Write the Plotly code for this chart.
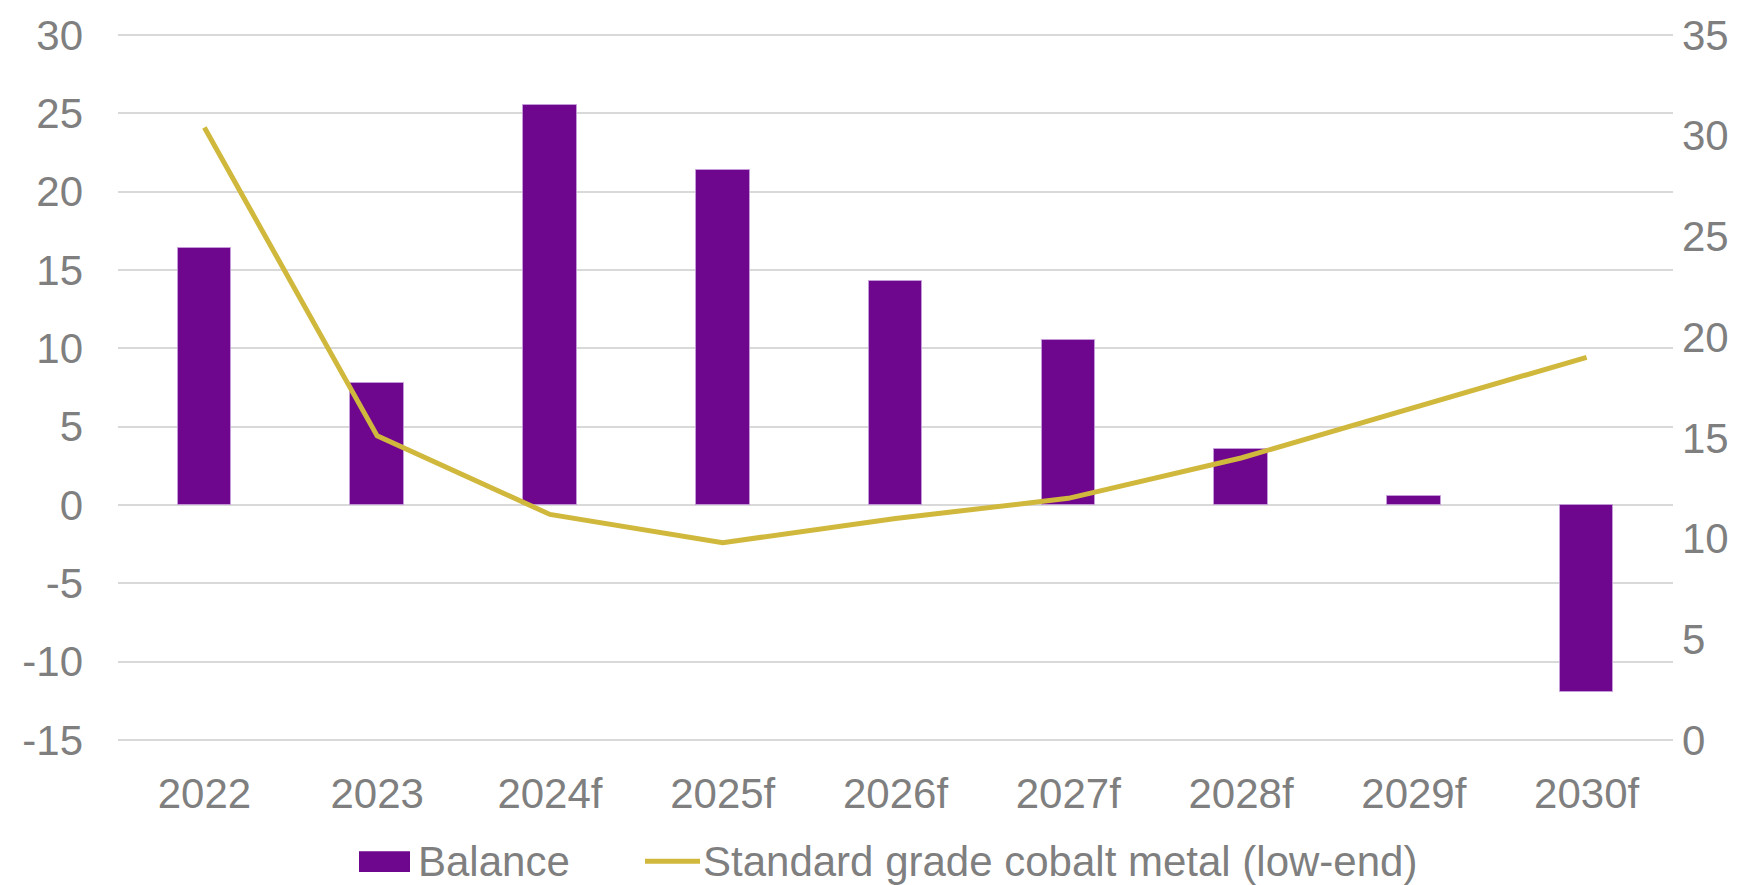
import plotly.graph_objects as go

years = ["2022", "2023", "2024f", "2025f", "2026f", "2027f", "2028f", "2029f", "2030f"]
balance = [16.4, 7.8, 25.5, 21.4, 14.3, 10.5, 3.6, 0.6, -11.9]
cobalt_price = [30.4, 15.1, 11.2, 9.8, 11.0, 12.0, 14.0, 16.5, 19.0]

left_ticks = [-15, -10, -5, 0, 5, 10, 15, 20, 25, 30]
right_ticks = [0, 5, 10, 15, 20, 25, 30, 35]

BAR_COLOR = "#6E078E"
LINE_COLOR = "#D0B83C"
TEXT_COLOR = "#7F7F7F"
GRID_COLOR = "#D9D9D9"
FONT = "Liberation Sans, Arial, sans-serif"
FS = 42

W, H = 1764, 885
ML, MR, MT, MB = 118, 91, 28, 143

# small padding so the outermost gridlines are drawn
PAD = 0.12
left_range = [-15 - PAD, 30 + PAD]
ratio = 35 / 45
right_range = [0 - PAD * ratio, 35 + PAD * ratio]

fig = go.Figure()
fig.add_trace(go.Bar(
    x=years, y=balance, name="Balance",
    marker=dict(color=BAR_COLOR, line=dict(color="rgba(200,160,220,0.8)", width=1)),
    width=0.31, yaxis="y",
))
fig.add_trace(go.Scatter(
    x=years, y=cobalt_price, name="Standard grade cobalt metal (low-end)",
    mode="lines", line=dict(color=LINE_COLOR, width=5), yaxis="y2",
))

fig.update_layout(
    width=W, height=H,
    margin=dict(l=ML, r=MR, t=MT, b=MB),
    paper_bgcolor="white", plot_bgcolor="white",
    showlegend=False,
    font=dict(family=FONT, size=FS, color=TEXT_COLOR),
    bargap=0.0,
    xaxis=dict(
        type="category", showgrid=False, zeroline=False, showline=False,
        ticks="", tickfont=dict(size=FS, color=TEXT_COLOR),
        ticklabelstandoff=23,
    ),
    yaxis=dict(
        range=left_range, tickvals=left_ticks,
        ticktext=[str(v) for v in left_ticks], showgrid=True,
        gridcolor=GRID_COLOR, gridwidth=1.5, zeroline=False, showline=False,
        ticks="", tickfont=dict(size=FS, color=TEXT_COLOR),
        ticklabelstandoff=34,
    ),
    yaxis2=dict(
        range=right_range, tickvals=right_ticks,
        ticktext=[str(v) for v in right_ticks], overlaying="y", side="right",
        showgrid=False, zeroline=False, showline=False, ticks="",
        tickfont=dict(size=FS, color=TEXT_COLOR), ticklabelstandoff=8,
    ),
)

# Legend drawn below the plot area
def px_x(px):
    return (px - ML) / (W - ML - MR)

def px_y(py):
    return (H - MB - py) / (H - MT - MB)

leg_y = px_y(862)
fig.add_shape(type="rect", xref="paper", yref="paper",
              x0=px_x(359), x1=px_x(410), y0=px_y(873), y1=px_y(852),
              fillcolor=BAR_COLOR, line=dict(width=0))
fig.add_annotation(xref="paper", yref="paper", x=px_x(416), y=leg_y,
                   text="Balance", showarrow=False, xanchor="left", yanchor="middle",
                   font=dict(size=FS, color=TEXT_COLOR))
fig.add_shape(type="line", xref="paper", yref="paper",
              x0=px_x(645), x1=px_x(700), y0=leg_y, y1=leg_y,
              line=dict(color=LINE_COLOR, width=5))
fig.add_annotation(xref="paper", yref="paper", x=px_x(701), y=leg_y,
                   text="Standard grade cobalt metal (low-end)", showarrow=False,
                   xanchor="left", yanchor="middle",
                   font=dict(size=FS, color=TEXT_COLOR))

fig.write_html("out.html")
